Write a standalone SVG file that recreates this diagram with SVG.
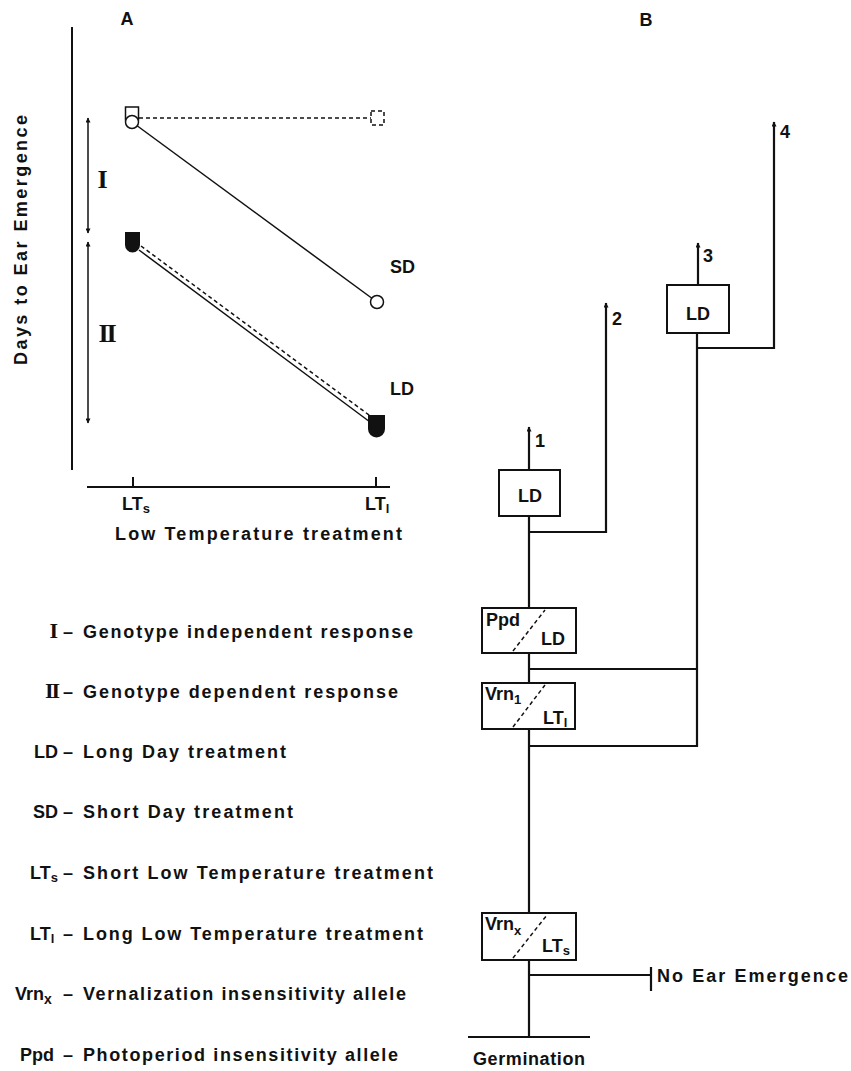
<svg xmlns="http://www.w3.org/2000/svg" width="851" height="1071" viewBox="0 0 851 1071">
<style>
.t{font-family:"Liberation Sans",Arial,sans-serif;font-weight:bold;fill:#111;font-size:18px}
.rn{font-family:"Liberation Serif","Times New Roman",serif;font-weight:bold;fill:#111}
.ln{stroke:#111;fill:none;stroke-width:1.5}
.ax{stroke:#111;fill:none;stroke-width:2}
.tr{stroke:#111;fill:none;stroke-width:2.2}
.box{fill:#fff;stroke:#111;stroke-width:2}
.dsh{stroke-dasharray:4 3}
.sym{fill:#fff;stroke:#111;stroke-width:1.5}
</style>
<defs>
<marker id="arr" viewBox="0 0 10 10" refX="9" refY="5" markerUnits="userSpaceOnUse" markerWidth="8" markerHeight="5" orient="auto-start-reverse">
<path d="M0,0 L10,5 L0,10 z" fill="#111"/>
</marker>
</defs>
<rect width="851" height="1071" fill="#fff"/>

<g id="panel-a">
<text class="t" x="127" y="25" text-anchor="middle" font-size="14">A</text>
<line class="ax" x1="72" y1="27" x2="72" y2="470"/>
<line class="ax" x1="87" y1="487" x2="390" y2="487"/>
<line class="ax" x1="133" y1="477" x2="133" y2="487"/>
<line class="ax" x1="376" y1="477" x2="376" y2="487"/>
<text class="t" transform="translate(27,240) rotate(-90)" text-anchor="middle" font-size="19" textLength="250" lengthAdjust="spacing">Days to Ear Emergence</text>
<text class="t" x="122" y="510" font-size="19">LT<tspan font-size="13" dy="3">s</tspan></text>
<text class="t" x="365" y="510" font-size="19">LT<tspan font-size="13" dy="3">l</tspan></text>
<text class="t" x="115" y="540" font-size="19" textLength="287" lengthAdjust="spacing">Low Temperature treatment</text>
<line class="ln" x1="88" y1="118" x2="88" y2="233" marker-start="url(#arr)" marker-end="url(#arr)"/>
<line class="ln" x1="88" y1="242" x2="88" y2="423" marker-start="url(#arr)" marker-end="url(#arr)"/>
<text class="rn" x="102.5" y="188" text-anchor="middle" font-size="26">I</text>
<text class="rn" x="106.5" y="342" text-anchor="middle" font-size="26" letter-spacing="-2">II</text>
<line class="ln dsh" x1="139" y1="118" x2="371" y2="118" stroke-width="1.2"/>
<line class="ln" x1="132" y1="122" x2="377" y2="302" stroke-width="1.3"/>
<line class="ln" x1="139" y1="250" x2="370" y2="422" stroke-width="1.4"/>
<line class="ln dsh" x1="141" y1="246" x2="373" y2="418" stroke-width="1.2"/>
<rect class="sym" x="125.5" y="107" width="13" height="13"/>
<circle class="sym" cx="132" cy="122" r="6.5"/>
<rect class="sym dsh" x="371" y="111" width="13" height="14" stroke-dasharray="6 2"/>
<circle class="sym" cx="377" cy="302" r="6.5"/>
<path d="M125,232 H140 V245 A7.5,7.5 0 0 1 125,245 Z" fill="#111"/>
<path d="M368,415 H385 V429 A8.5,8.5 0 0 1 368,429 Z" fill="#111"/>
<text class="t" x="390" y="273" font-size="19">SD</text>
<text class="t" x="390" y="395" font-size="19">LD</text>
</g>

<g id="legend">
<g id="leg-1"><text class="rn" x="58" y="638" text-anchor="end" font-size="22">I</text><text class="t" x="63" y="638">–</text><text class="t" x="83" y="638" textLength="330" lengthAdjust="spacing">Genotype independent response</text></g>
<g id="leg-2"><text class="rn" x="58" y="698" text-anchor="end" font-size="22" letter-spacing="-2">II</text><text class="t" x="63" y="698">–</text><text class="t" x="83" y="698" textLength="315" lengthAdjust="spacing">Genotype dependent response</text></g>
<g id="leg-3"><text class="t" x="58" y="758" text-anchor="end">LD</text><text class="t" x="63" y="758">–</text><text class="t" x="83" y="758" textLength="203" lengthAdjust="spacing">Long Day treatment</text></g>
<g id="leg-4"><text class="t" x="58" y="818" text-anchor="end">SD</text><text class="t" x="63" y="818">–</text><text class="t" x="83" y="818" textLength="210" lengthAdjust="spacing">Short Day treatment</text></g>
<g id="leg-5"><text class="t" x="30" y="879">LT<tspan font-size="13" dy="3">s</tspan></text><text class="t" x="63" y="879">–</text><text class="t" x="83" y="879" textLength="350" lengthAdjust="spacing">Short Low Temperature treatment</text></g>
<g id="leg-6"><text class="t" x="30" y="940">LT<tspan font-size="13" dy="3">l</tspan></text><text class="t" x="63" y="940">–</text><text class="t" x="83" y="940" textLength="340" lengthAdjust="spacing">Long Low Temperature treatment</text></g>
<g id="leg-7"><text class="t" x="15" y="1000">Vrn<tspan font-size="14" dy="4">x</tspan></text><text class="t" x="63" y="1000">–</text><text class="t" x="83" y="1000" textLength="323" lengthAdjust="spacing">Vernalization insensitivity allele</text></g>
<g id="leg-8"><text class="t" x="20" y="1061">Ppd</text><text class="t" x="63" y="1061">–</text><text class="t" x="83" y="1061" textLength="315" lengthAdjust="spacing">Photoperiod insensitivity allele</text></g>
</g>

<g id="connectors">
<line class="tr" x1="529" y1="1037" x2="529" y2="516" stroke-width="2.5"/>
<line class="tr" x1="529" y1="470" x2="529" y2="427" marker-end="url(#arr)"/>
<path class="tr" d="M529,532 H606 V303" marker-end="url(#arr)"/>
<path class="tr" d="M529,975 H651" stroke-width="1.8"/>
<line class="tr" x1="651" y1="967" x2="651" y2="991"/>
<path class="tr" d="M529,669 H697" stroke-width="1.8"/>
<path class="tr" d="M529,746 H697 V333"/>
<line class="tr" x1="698" y1="285" x2="698" y2="243" marker-end="url(#arr)"/>
<path class="tr" d="M698,348 H774 V122" marker-end="url(#arr)"/>
</g>

<g id="panel-b">
<text class="t" x="646" y="26" text-anchor="middle" font-size="14">B</text>
<g id="node-ld1"><rect class="box" x="499" y="470" width="61" height="46"/><text class="t" x="530" y="502" text-anchor="middle" font-size="19">LD</text></g>
<text class="t" x="535" y="447" font-size="13">1</text>
<text class="t" x="612" y="325" font-size="13">2</text>
<g id="node-ld3"><rect class="box" x="667" y="285" width="62" height="48"/><text class="t" x="698" y="320" text-anchor="middle" font-size="19">LD</text></g>
<text class="t" x="703" y="262" font-size="13">3</text>
<text class="t" x="780" y="138" font-size="13">4</text>
<g id="node-ppd"><rect class="box" x="482" y="608" width="94" height="45"/><line class="ln dsh" x1="513" y1="651" x2="545" y2="610"/><text class="t" x="486" y="626" font-size="17">Ppd</text><text class="t" x="541" y="645" font-size="19">LD</text></g>
<g id="node-vrn1"><rect class="box" x="482" y="683" width="93" height="46"/><line class="ln dsh" x1="513" y1="727" x2="545" y2="685"/><text class="t" x="485" y="700" font-size="17">Vrn<tspan font-size="13" dy="4">1</tspan></text><text class="t" x="543" y="724" font-size="18">LT<tspan font-size="13" dy="3">l</tspan></text></g>
<g id="node-vrnx"><rect class="box" x="482" y="913" width="94" height="47"/><line class="ln dsh" x1="513" y1="958" x2="547" y2="915"/><text class="t" x="485" y="930" font-size="17">Vrn<tspan font-size="13" dy="5">x</tspan></text><text class="t" x="542" y="952" font-size="18">LT<tspan font-size="13" dy="3">s</tspan></text></g>
<g id="node-noear"><text class="t" x="657" y="982" textLength="191" lengthAdjust="spacing">No Ear Emergence</text></g>
<g id="node-germ"><line class="ax" x1="468" y1="1037" x2="590" y2="1037"/><text class="t" x="473" y="1065" font-size="19" textLength="112" lengthAdjust="spacing">Germination</text></g>
</g>
</svg>
